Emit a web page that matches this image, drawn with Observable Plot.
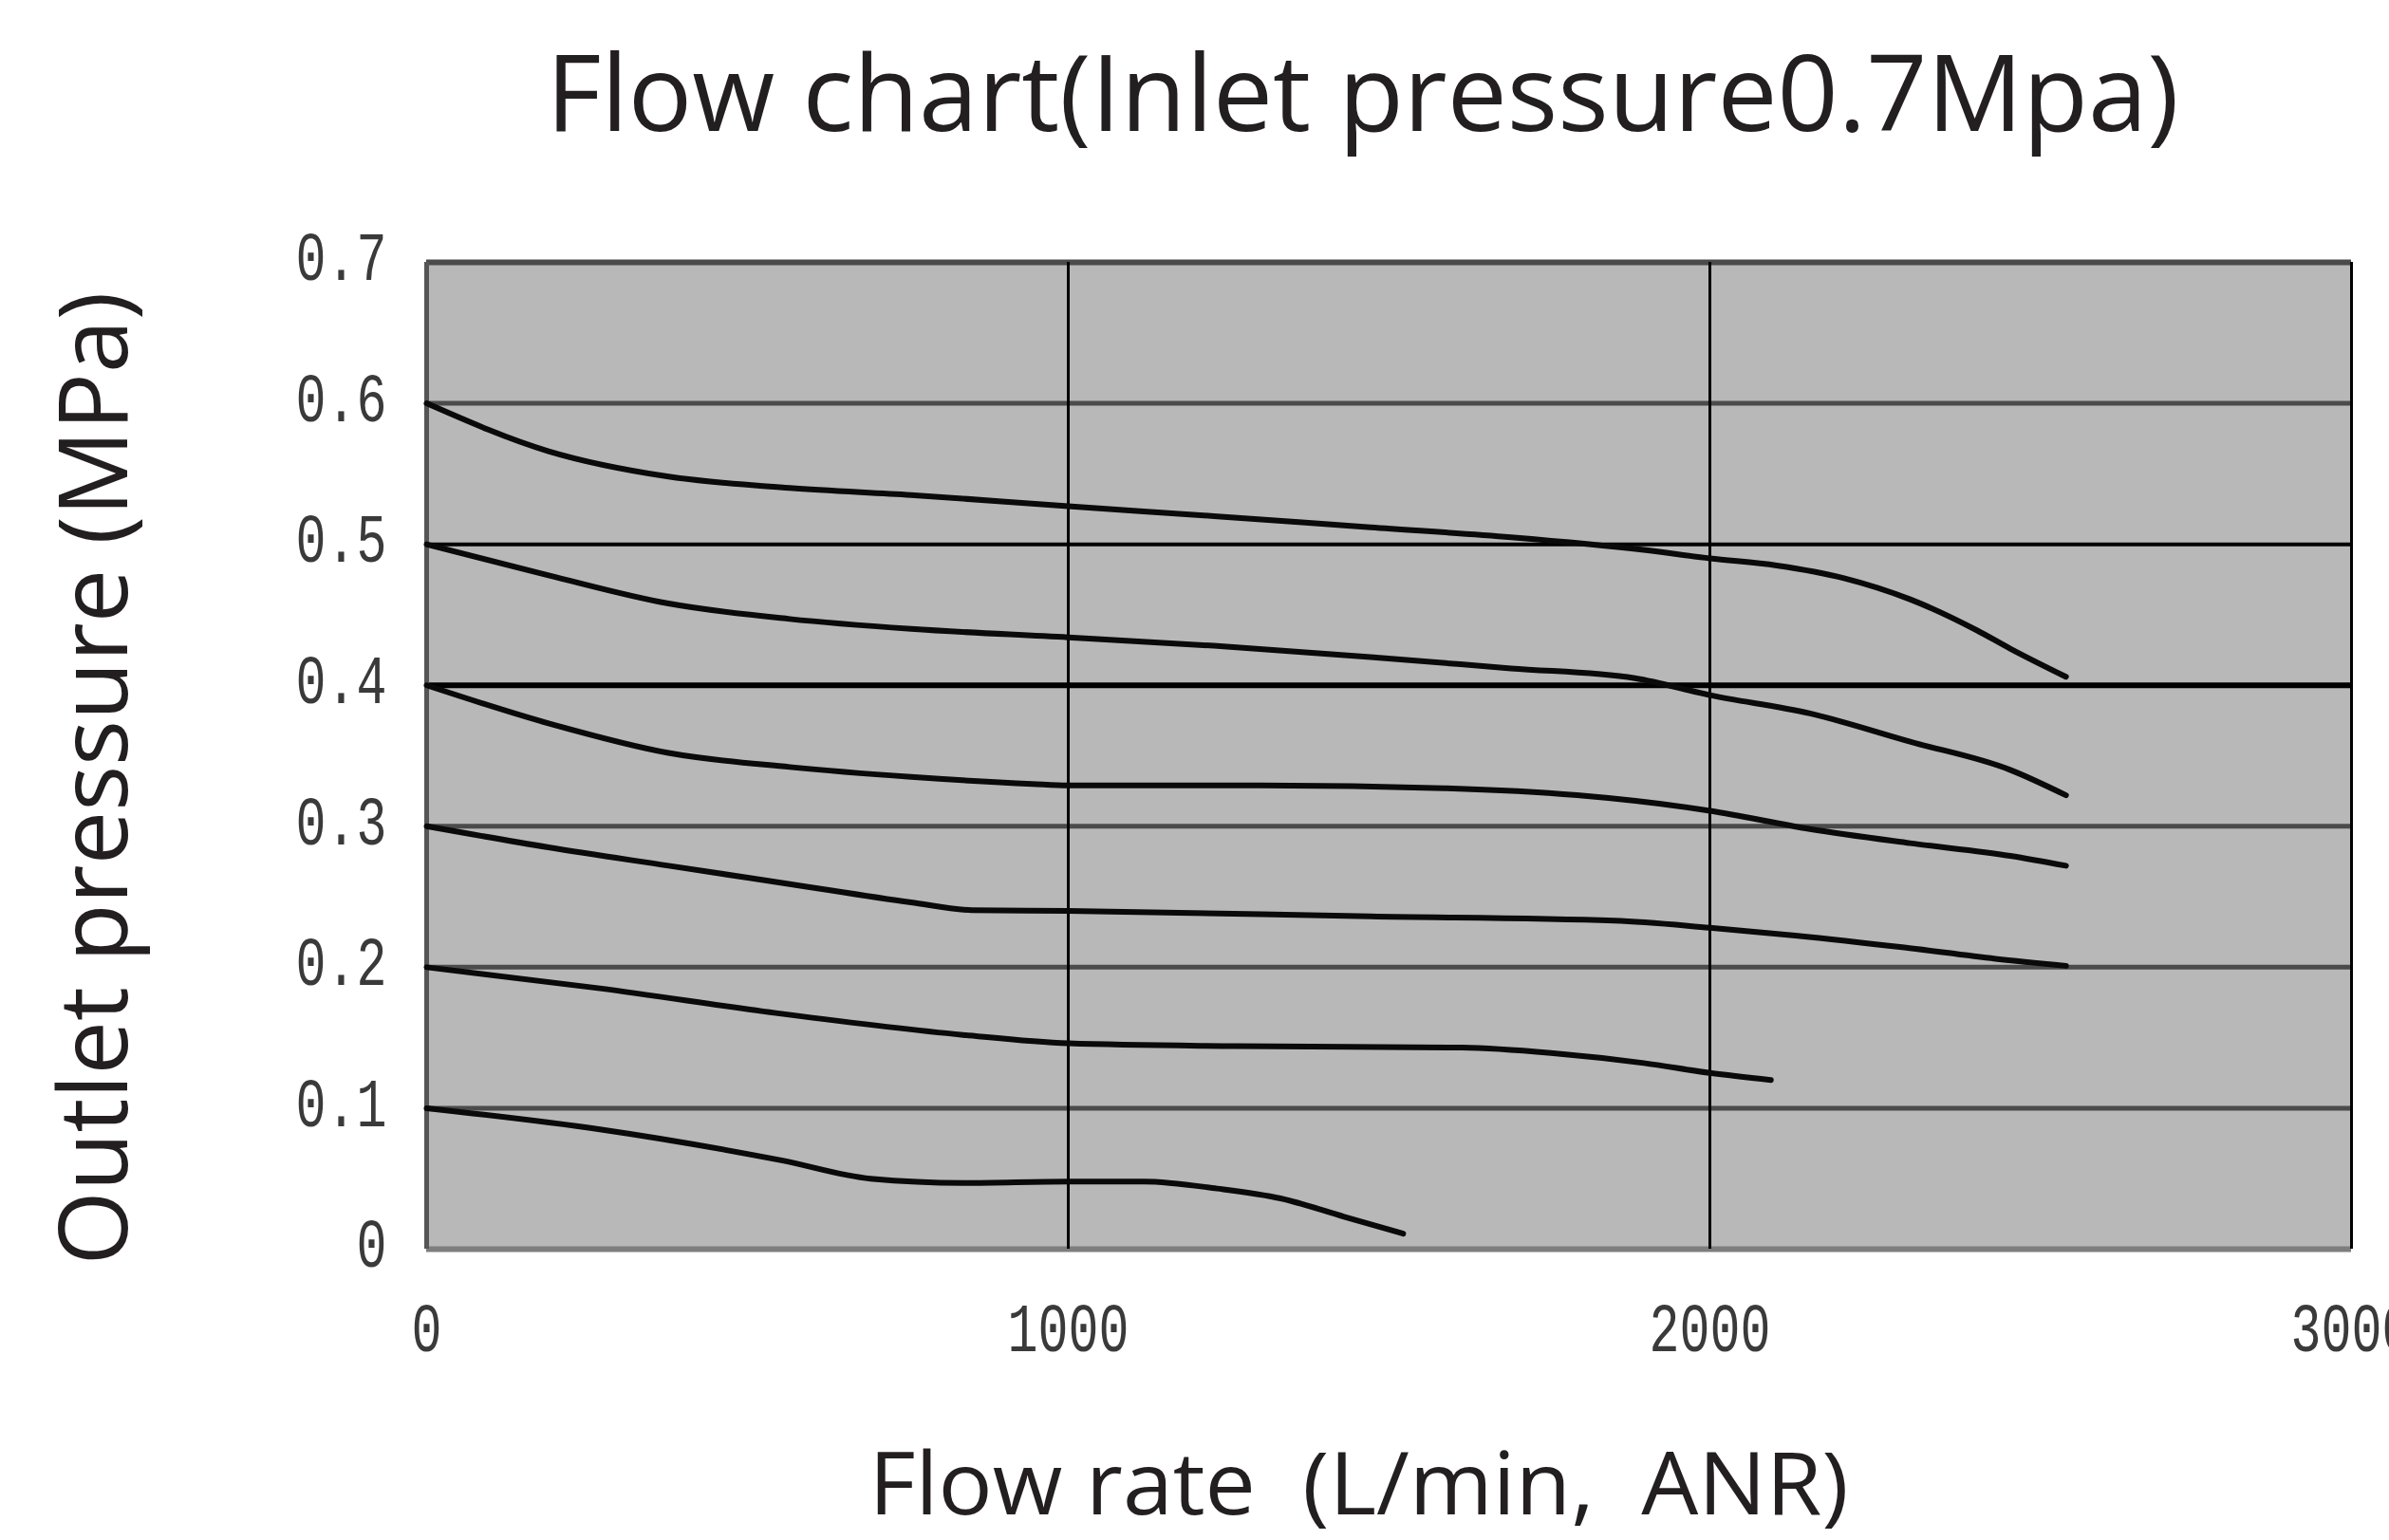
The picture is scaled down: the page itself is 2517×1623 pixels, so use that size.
<!DOCTYPE html>
<html>
<head>
<meta charset="utf-8">
<script src="https://cdn.jsdelivr.net/npm/d3@7"></script>
<script src="https://cdn.jsdelivr.net/npm/@observablehq/plot@0.6"></script>
<style>
  html, body { margin: 0; padding: 0; background: #fff; overflow: hidden; }
  #chart svg { display: block; max-width: none; }
</style>
</head>
<body>
<div id="chart"></div>
<script>
// ---- texts ----
const titleText = "Flow chart(Inlet pressure0.7Mpa)";
const xLabelText = "Flow rate  (L/min,  ANR)";
const yLabelText = "Outlet pressure (MPa)";

// ---- ticks ----
const xTicks = [0, 1000, 2000, 3000];
const yTicks = [0, 0.1, 0.2, 0.3, 0.4, 0.5, 0.6, 0.7];

// ---- series (set pressure curves) ----
const seriesNames = ["0.6", "0.5", "0.4", "0.3", "0.2", "0.1"];

const flow06 = [0, 190, 377, 566, 755, 1000, 1227, 1471, 1690, 1897, 2000, 2104, 2209, 2312, 2416, 2468, 2555];
const pres06 = [0.600, 0.566, 0.548, 0.540, 0.535, 0.527, 0.520, 0.512, 0.505, 0.496, 0.490, 0.485, 0.476, 0.461, 0.439, 0.426, 0.406];

const flow05 = [0, 190, 377, 566, 755, 1000, 1227, 1471, 1690, 1883, 2000, 2156, 2312, 2468, 2555];
const pres05 = [0.500, 0.478, 0.458, 0.447, 0.440, 0.434, 0.428, 0.420, 0.412, 0.405, 0.393, 0.380, 0.360, 0.340, 0.322];

const flow04 = [0, 190, 377, 566, 755, 944, 1000, 1300, 1586, 1793, 2000, 2156, 2312, 2468, 2555];
const pres04 = [0.400, 0.373, 0.352, 0.342, 0.335, 0.330, 0.329, 0.329, 0.327, 0.322, 0.311, 0.298, 0.288, 0.279, 0.272];

const flow03 = [0, 190, 377, 566, 755, 850, 1000, 1471, 1851, 2000, 2133, 2303, 2445, 2555];
const pres03 = [0.300, 0.285, 0.272, 0.259, 0.246, 0.2405, 0.240, 0.236, 0.233, 0.228, 0.2225, 0.214, 0.206, 0.201];

const flow02 = [0, 270, 553, 836, 1000, 1261, 1614, 1756, 1897, 2000, 2095];
const pres02 = [0.200, 0.185, 0.167, 0.152, 0.146, 0.144, 0.143, 0.139, 0.132, 0.125, 0.120];

const flow01 = [0, 270, 553, 692, 836, 1000, 1118, 1232, 1331, 1430, 1522];
const pres01 = [0.100, 0.085, 0.063, 0.050, 0.047, 0.048, 0.048, 0.043, 0.036, 0.023, 0.011];

const flows = [flow06, flow05, flow04, flow03, flow02, flow01];
const pressures = [pres06, pres05, pres04, pres03, pres02, pres01];

const rows = [];
seriesNames.forEach((name, i) => {
  flows[i].forEach((f, j) => rows.push({series: name, flow: f, pressure: pressures[i][j]}));
});

// ---- styles ----
const bg = "#b7b8b7";
const hStroke = d => (d === 0.4 || d === 0.5) ? "#000" : (d === 0 ? "#7d7e7d" : "#4b4b4b");
const hWidth = d => d === 0.4 ? 6 : (d === 0 || d === 0.7) ? 6 : d === 0.5 ? 4 : 5;
const vStroke = d => d === 0 ? "#555" : "#000";
const vWidth = d => d === 0 ? 5 : 3;

const W = 2517, H = 1623;
const mLeft = 449, mRight = 40, mTop = 276, mBottom = 307;

const chart = Plot.plot({
  width: W,
  height: H,
  marginLeft: mLeft,
  marginRight: mRight,
  marginTop: mTop,
  marginBottom: mBottom,
  style: {fontFamily: "Liberation Mono", fontSize: "72px", color: "#3a3a3a", background: "#fff"},
  color: {type: "identity"},
  x: {domain: [0, 3000], ticks: xTicks, tickSize: 0, tickPadding: 56, label: null, tickFormat: d => String(d)},
  y: {domain: [0, 0.7], ticks: yTicks, tickSize: 0, tickPadding: 42, label: null, tickFormat: d => d === 0 ? "0" : d.toFixed(1)},
  marks: [
    Plot.frame({fill: bg, stroke: null}),
    Plot.ruleY(yTicks, {y: d => d, stroke: hStroke, strokeWidth: hWidth}),
    Plot.ruleX(xTicks, {x: d => d, stroke: vStroke, strokeWidth: vWidth}),
    Plot.line(rows, {x: "flow", y: "pressure", z: "series", curve: "monotone-x", stroke: "#0a0a0a", strokeWidth: 6, strokeLinejoin: "round", strokeLinecap: "round"}),
    Plot.text([titleText], {text: d => d, frameAnchor: "top", textAnchor: "middle", dx: -28, dy: -174, fontSize: 111, fontFamily: "Open Sans", fill: "#231f20", lineAnchor: "middle"}),
    Plot.text([xLabelText], {text: d => d, frameAnchor: "bottom", textAnchor: "middle", dx: -32, dy: 250, fontSize: 92, fontFamily: "Open Sans", fill: "#231f20", lineAnchor: "middle"}),
    Plot.text([yLabelText], {text: d => d, frameAnchor: "left", textAnchor: "middle", dx: -348, dy: 24, rotate: -90, fontSize: 100, fontFamily: "Open Sans", fill: "#231f20", lineAnchor: "middle"})
  ]
});

document.getElementById("chart").appendChild(chart);

// ---- post-processing of text rendering ----
const svg = d3.select(chart);
svg.selectAll("text").each(function() {
  const t = this.textContent;
  const el = d3.select(this);
  const inX = this.closest('[aria-label*="x-axis"]');
  const inY = this.closest('[aria-label*="y-axis"]');
  if (inX) {
    el.attr("textLength", t.length * 32).attr("lengthAdjust", "spacingAndGlyphs");
  } else if (inY) {
    el.attr("textLength", t.length * 32).attr("lengthAdjust", "spacingAndGlyphs").attr("dy", "-0.06em");
  } else if (t === titleText) {
    el.attr("textLength", 1720).attr("lengthAdjust", "spacingAndGlyphs");
  } else if (t === xLabelText) {
    el.style("white-space", "pre").attr("textLength", 1032).attr("lengthAdjust", "spacingAndGlyphs");
  } else if (t === yLabelText) {
    el.attr("textLength", 1026).attr("lengthAdjust", "spacingAndGlyphs");
  }
});
</script>
</body>
</html>
